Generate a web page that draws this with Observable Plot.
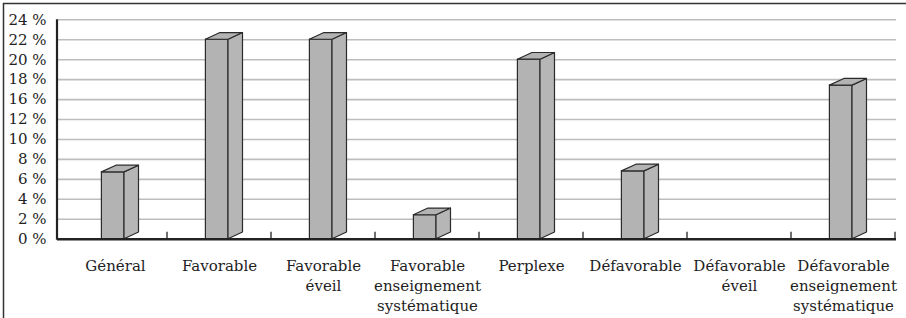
<!DOCTYPE html>
<html><head><meta charset="utf-8">
<script src="https://cdn.jsdelivr.net/npm/d3@7"></script>
<script src="https://cdn.jsdelivr.net/npm/@observablehq/plot@0.6"></script>
<style>body{margin:0;background:#fff} svg{display:block}</style>
</head><body><div id="chart"></div>
<script>
const categories = ["Général", "Favorable", "Favorable éveil", "Favorable enseignement systématique", "Perplexe", "Défavorable", "Défavorable éveil", "Défavorable enseignement systématique"];
const labels = ["Général", "Favorable", "Favorable\néveil", "Favorable\nenseignement\nsystématique", "Perplexe", "Défavorable", "Défavorable\néveil", "Défavorable\nenseignement\nsystématique"];
const values = [6.7, 22, 22, 2.4, 20, 6.8, 0, 17.4];
// tick labels as printed on the original (the 14 % label is absent; gridlines are evenly spaced)
const yTicks = [0, 2, 4, 6, 8, 10, 12, 16, 18, 20, 22, 24];

// map a printed percentage onto its evenly spaced gridline slot
const toSlot = d3.scaleLinear().domain(yTicks).range(yTicks.map((_, i) => i));
const slots = yTicks.map((_, i) => i);

const data = categories.map((c, i) => ({category: c, label: labels[i], value: values[i], slot: toSlot(values[i])}));

const W = 906, H = 318;
const FRONT_L = 38.4, FRONT_R = 43, DEPTH_X = 14.5, DEPTH_Y = 6.7;
const bwOf = x => (typeof x.bandwidth === "function" ? x.bandwidth() : x.bandwidth);

// side & top faces of the 3D bars
const faces = (index, scales, vals, dims) => {
  const x = scales.x, y = scales.y, bw = bwOf(x);
  const g = d3.create("svg:g");
  for (const d of data) {
    if (!(d.value > 0)) continue;
    const x0 = x(d.category) + FRONT_L, x1 = x(d.category) + bw - FRONT_R;
    const t = y(d.slot), b = y(0);
    g.append("path")
      .attr("d", `M${x1},${t}L${x1 + DEPTH_X},${t - DEPTH_Y}L${x1 + DEPTH_X},${b - DEPTH_Y}L${x1},${b}Z`)
      .attr("fill", "#b6b6b6").attr("stroke", "#2b2b2b").attr("stroke-width", 1.2).attr("stroke-linejoin", "round");
    g.append("path")
      .attr("d", `M${x0},${t}L${x0 + DEPTH_X},${t - DEPTH_Y}L${x1 + DEPTH_X},${t - DEPTH_Y}L${x1},${t}Z`)
      .attr("fill", "#b3b3b3").attr("stroke", "#2b2b2b").attr("stroke-width", 1.2).attr("stroke-linejoin", "round");
  }
  return g.node();
};

// axis lines, category separator ticks and the frame border
const axes = (index, scales, vals, dims) => {
  const x = scales.x, y = scales.y, bw = bwOf(x);
  const g = d3.create("svg:g");
  g.append("path").attr("d", `M3.5,${dims.height}V3.5H${dims.width}`)
    .attr("fill", "none").attr("stroke", "#333").attr("stroke-width", 1.5);
  g.append("path").attr("d", `M${dims.marginLeft},${y(slots[slots.length - 1])}V${y(0) + 1}`)
    .attr("stroke", "#222").attr("stroke-width", 2.2);
  for (const c of categories) {
    const xe = x(c) + bw;
    g.append("path").attr("d", `M${xe},${y(0) - 7}V${y(0)}`)
      .attr("stroke", "#222").attr("stroke-width", 1.3);
  }
  return g.node();
};

const chart = Plot.plot({
  width: W,
  height: H,
  marginLeft: 57,
  marginRight: 10,
  marginTop: 19.3,
  marginBottom: 79.3,
  style: {fontFamily: "'DejaVu Serif', serif", fontSize: "15px", color: "#222", background: "#fff"},
  x: {domain: categories, range: [61, 896], padding: 0, axis: null},
  y: {
    domain: [0, slots.length - 1],
    ticks: slots,
    tickFormat: i => yTicks[i] + " %",
    tickSize: 0,
    tickPadding: 11,
    label: null
  },
  marks: [
    Plot.ruleY(slots.filter(d => d > 0), {stroke: "#bdbdbd", strokeWidth: 1.6}),
    Plot.barY(data, {x: "category", y: "slot", insetLeft: FRONT_L, insetRight: FRONT_R, fill: "#b3b3b3", stroke: "#2b2b2b", strokeWidth: 1.2}),
    faces,
    Plot.ruleY([0], {stroke: "#222", strokeWidth: 2.6}),
    axes,
    Plot.text(data, {x: "category", y: 0, text: "label", dy: 17.5, lineAnchor: "top", lineHeight: 1.33, textAnchor: "middle", fill: "#222"})
  ]
});
document.getElementById("chart").appendChild(chart);
</script>
</body></html>
